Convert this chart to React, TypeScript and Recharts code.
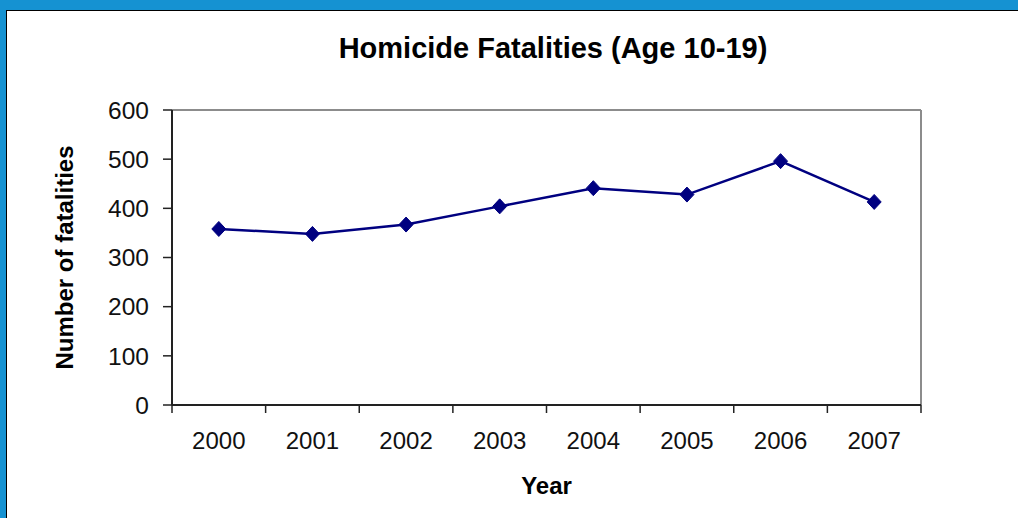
import React from 'react';
import { CartesianGrid, Line, LineChart, XAxis, YAxis } from 'recharts';

const years = ['2000', '2001', '2002', '2003', '2004', '2005', '2006', '2007'];
const fatalities = [358, 348, 367, 404, 441, 428, 496, 413];
const yTicks = [0, 100, 200, 300, 400, 500, 600];

const chartData = years.map((year, i) => ({ year, fatalities: fatalities[i] }));

const W = 1018;
const H = 518;
const MARGIN = { top: 110, right: 97, bottom: 0, left: 0 };
const Y_AXIS_W = 172;
const X_AXIS_H = 113;
const PLOT_W = W - MARGIN.left - MARGIN.right - Y_AXIS_W;
const BAND = PLOT_W / years.length;
const X_TICK_GAP = 27;
const FONT = '"Liberation Sans", Arial, sans-serif';
const NAVY = '#000080';
const AXIS = '#222';
const FRAME = '#8c8c8c';

function YearTick(props: any) {
  const { x, y, payload, index } = props;
  const axisY = y - X_TICK_GAP;
  const left = x - BAND / 2;
  const right = x + BAND / 2;
  return (
    <g>
      <line x1={left} y1={axisY} x2={left} y2={axisY + 8} stroke={AXIS} strokeWidth={1.5} />
      {index === years.length - 1 && (
        <line x1={right} y1={axisY} x2={right} y2={axisY + 8} stroke={AXIS} strokeWidth={1.5} />
      )}
      <text x={x} y={y} dy="0.71em" textAnchor="middle" fontSize={24} fill="#111" fontFamily={FONT}>
        {payload.value}
      </text>
    </g>
  );
}

function Diamond(props: any) {
  const { cx, cy, index } = props;
  if (cx == null || cy == null) return <g key={index} />;
  const r = 7.5;
  return (
    <polygon
      key={index}
      points={`${cx},${cy - r} ${cx + r - 0.5},${cy} ${cx},${cy + r} ${cx - r + 0.5},${cy}`}
      fill={NAVY}
      stroke={NAVY}
    />
  );
}

export default function App() {
  return (
    <div style={{ position: 'fixed', left: 0, top: 0, width: W, height: H, background: '#1592d2', overflow: 'hidden' }}>
      <div
        style={{
          position: 'absolute',
          left: 6,
          top: 10,
          width: W - 6,
          height: H - 10,
          background: '#fff',
          borderLeft: '1px solid #000',
          borderTop: '1px solid #000',
          boxSizing: 'border-box',
        }}
      />
      <div
        style={{
          position: 'absolute',
          left: 253,
          top: 34,
          width: 600,
          textAlign: 'center',
          fontFamily: FONT,
          fontWeight: 'bold',
          fontSize: 29,
          lineHeight: '29px',
          color: '#000',
        }}
      >
        Homicide Fatalities (Age 10-19)
      </div>
      <div style={{ position: 'absolute', left: 0, top: 0 }}>
        <LineChart width={W} height={H} data={chartData} margin={MARGIN}>
          {/* grey top and right edges of the plot box */}
          <CartesianGrid
            stroke={FRAME}
            strokeWidth={2}
            horizontalCoordinatesGenerator={({ offset }: any) => [offset.top]}
            verticalCoordinatesGenerator={({ offset }: any) => [offset.left + offset.width]}
          />
          <XAxis
            dataKey="year"
            scale="band"
            height={X_AXIS_H}
            tick={<YearTick />}
            tickLine={false}
            tickSize={0}
            tickMargin={X_TICK_GAP}
            interval={0}
            axisLine={{ stroke: AXIS, strokeWidth: 2 }}
            label={{
              value: 'Year',
              content: (p: any) => (
                <text
                  x={p.viewBox.x + p.viewBox.width / 2}
                  y={494}
                  textAnchor="middle"
                  fontSize={24}
                  fontWeight="bold"
                  fontFamily={FONT}
                  fill="#000"
                >
                  Year
                </text>
              ),
            }}
          />
          <YAxis
            type="number"
            domain={[0, 600]}
            ticks={yTicks}
            width={Y_AXIS_W}
            tickSize={9}
            tickMargin={14}
            tickLine={{ stroke: AXIS, strokeWidth: 1.5 }}
            axisLine={{ stroke: AXIS, strokeWidth: 2 }}
            tick={{ fontSize: 24.5, fill: '#111', fontFamily: FONT }}
            label={{
              value: 'Number of fatalities',
              content: (p: any) => {
                const cy = p.viewBox.y + p.viewBox.height / 2;
                return (
                  <text
                    x={73}
                    y={cy}
                    transform={`rotate(-90, 73, ${cy})`}
                    textAnchor="middle"
                    fontSize={24}
                    fontWeight="bold"
                    fontFamily={FONT}
                    fill="#000"
                  >
                    Number of fatalities
                  </text>
                );
              },
            }}
          />
          <Line
            type="linear"
            dataKey="fatalities"
            stroke={NAVY}
            strokeWidth={2.5}
            dot={(p: any) => <Diamond {...p} key={p.index} />}
            activeDot={false}
            isAnimationActive={false}
          />
        </LineChart>
      </div>
    </div>
  );
}
